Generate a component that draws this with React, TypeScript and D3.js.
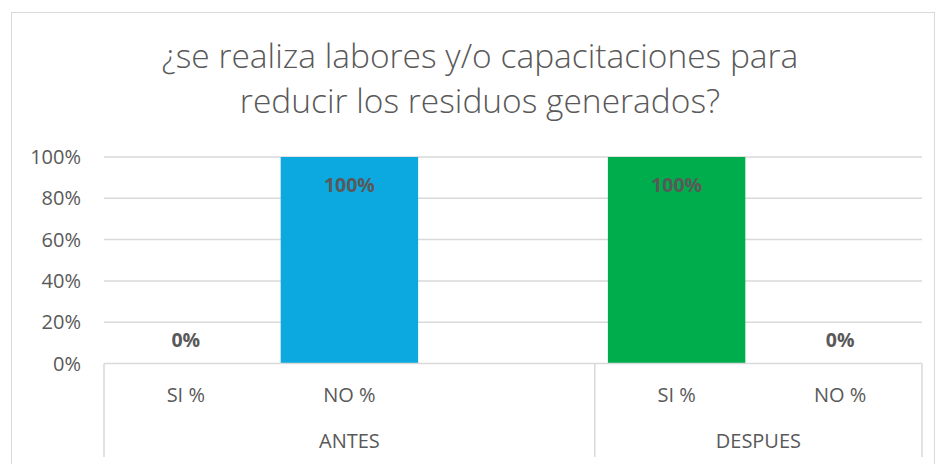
import React from "react";
import * as d3 from "d3";

const categories = ["SI %", "NO %", "", "SI %", "NO %"];
const groups = ["ANTES", "ANTES", "ANTES", "DESPUES", "DESPUES"];
const groupNames = ["ANTES", "DESPUES"];
const values: (number | null)[] = [0, 1, null, 1, 0];
const colors = ["#0ba9e0", "#0ba9e0", "#0ba9e0", "#00ad4c", "#00ad4c"];
const yTicks = [0, 0.2, 0.4, 0.6, 0.8, 1];
const titleLines = ["¿se realiza labores y/o capacitaciones para", "reducir los residuos generados?"];

const W = 937, H = 464;
const left = 104, right = 922, top = 157, bottom = 363.5;
const FONT = "Open Sans, Lato, sans-serif";

export default function App() {
  const idx = categories.map((_, i) => String(i));
  const x = d3.scaleBand<string>().domain(idx).range([left, right]).paddingInner(0.16).paddingOuter(0.08);
  const xb = d3.scaleBand<string>().domain(idx).range([left, right]);
  const y = d3.scaleLinear().domain([0, 1]).range([bottom, top]);
  const fmt = d3.format(".0%");

  const spans = groupNames.map((g) => {
    const ids = idx.filter((i) => groups[+i] === g);
    const x0 = xb(ids[0])!;
    const x1 = xb(ids[ids.length - 1])! + xb.bandwidth();
    return { g, x0, x1 };
  });
  const dividers = [left, ...spans.map((s) => s.x1)];

  return (
    <svg width={W} height={H} style={{ position: "absolute", left: 0, top: 0, background: "#fff" }}>
      <rect x={11.5} y={12.5} width={923} height={470} fill="#fff" stroke="#d9d9d9" />
      {titleLines.map((t, i) => (
        <text key={i} x={480} y={68 + i * 45} textAnchor="middle" fontFamily={FONT} fontWeight={300} fontSize={33.5} fill="#595959">
          {t}
        </text>
      ))}
      {yTicks.map((t) => (
        <g key={t}>
          {t > 0 && <line x1={left} x2={right} y1={y(t)} y2={y(t)} stroke="#d9d9d9" strokeWidth={1.5} />}
          <text x={81} y={y(t)} dy="0.35em" textAnchor="end" fontFamily={FONT} fontSize={20} fill="#595959">
            {fmt(t)}
          </text>
        </g>
      ))}
      {values.map((v, i) =>
        v === null ? null : (
          <rect key={i} x={x(String(i))} y={y(v)} width={x.bandwidth()} height={y(0) - y(v)} fill={colors[i]} />
        )
      )}
      <line x1={left} x2={right} y1={bottom} y2={bottom} stroke="#d9d9d9" strokeWidth={1.5} />
      {dividers.map((d, i) => (
        <line key={i} x1={d} x2={d} y1={bottom} y2={457} stroke="#d9d9d9" strokeWidth={1.5} />
      ))}
      {values.map((v, i) =>
        v === null ? null : (
          <text key={i} x={xb(String(i))! + xb.bandwidth() / 2} y={v > 0.5 ? y(v) + 28 : y(v) - 23} dy="0.35em" textAnchor="middle" fontFamily={FONT} fontWeight={700} fontSize={19.5} fill="#595959">
            {fmt(v)}
          </text>
        )
      )}
      {categories.map((c, i) => (
        <text key={i} x={xb(String(i))! + xb.bandwidth() / 2} y={395} dy="0.35em" textAnchor="middle" fontFamily={FONT} fontSize={20} fill="#595959">
          {c}
        </text>
      ))}
      {spans.map((s) => (
        <text key={s.g} x={(s.x0 + s.x1) / 2} y={441} dy="0.35em" textAnchor="middle" fontFamily={FONT} fontSize={20} fill="#595959">
          {s.g}
        </text>
      ))}
    </svg>
  );
}
